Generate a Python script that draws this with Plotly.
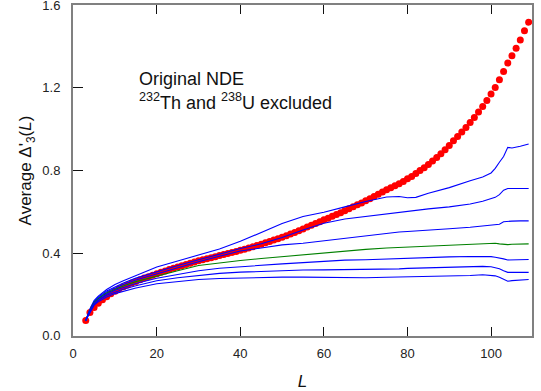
import plotly.graph_objects as go

# Red dots: Original NDE average Delta'_3(L), L = 3..109
L_red = list(range(3, 110))
red_vals = [
    0.074, 0.112, 0.137, 0.157, 0.174, 0.189, 0.203, 0.216, 0.227, 0.237,  # 3-12
    0.246, 0.255, 0.263, 0.271, 0.279, 0.286, 0.293, 0.300, 0.307, 0.314,  # 13-22
    0.321, 0.327, 0.333, 0.339, 0.345, 0.351, 0.357, 0.363, 0.368, 0.373,  # 23-32
    0.378, 0.383, 0.388, 0.393, 0.398, 0.403, 0.408, 0.414, 0.419, 0.425,  # 33-42
    0.431, 0.437, 0.443, 0.450, 0.456, 0.463, 0.470, 0.477, 0.484, 0.492,  # 43-52
    0.500, 0.508, 0.517, 0.526, 0.535, 0.544, 0.552, 0.561, 0.569, 0.578,  # 53-62
    0.587, 0.596, 0.605, 0.615, 0.624, 0.634, 0.643, 0.653, 0.663, 0.674,  # 63-72
    0.685, 0.696, 0.707, 0.717, 0.726, 0.736, 0.747, 0.760, 0.771, 0.786,  # 73-82
    0.800, 0.813, 0.829, 0.846, 0.863, 0.881, 0.900, 0.921, 0.944, 0.965,  # 83-92
    0.986, 1.008, 1.032, 1.057, 1.083, 1.110, 1.139, 1.170, 1.202, 1.239,  # 93-102
    1.279, 1.320, 1.355, 1.392, 1.432, 1.476, 1.518,                        # 103-109
]

# Lines (read at these L values)
L_lines = [3, 4, 5, 6, 8, 10, 12, 15, 20, 25,
           30, 35, 40, 45, 50, 55, 60, 65, 70, 75,
           78, 80, 82, 85, 90, 95, 98, 100, 101, 102,
           103, 104, 105, 107, 109]

blue1 = [0.074, 0.130, 0.170, 0.192, 0.224, 0.248, 0.266, 0.292, 0.333, 0.362,
         0.392, 0.420, 0.457, 0.500, 0.543, 0.577, 0.598, 0.624, 0.650, 0.672,
         0.674, 0.668, 0.670, 0.690, 0.717, 0.750, 0.768, 0.788, 0.810, 0.840,
         0.868, 0.912, 0.909, 0.917, 0.928]
blue2 = [0.074, 0.127, 0.166, 0.187, 0.217, 0.238, 0.255, 0.279, 0.310, 0.340,
         0.368, 0.395, 0.422, 0.445, 0.476, 0.512, 0.545, 0.565, 0.578, 0.589,
         0.597, 0.603, 0.607, 0.614, 0.624, 0.638, 0.651, 0.663, 0.670, 0.683,
         0.705, 0.713, 0.713, 0.713, 0.713]
blue3 = [0.074, 0.124, 0.163, 0.183, 0.212, 0.232, 0.248, 0.270, 0.300, 0.330,
         0.358, 0.385, 0.410, 0.425, 0.440, 0.448, 0.460, 0.472, 0.485, 0.497,
         0.502, 0.505, 0.507, 0.510, 0.518, 0.525, 0.530, 0.533, 0.536, 0.540,
         0.552, 0.555, 0.555, 0.556, 0.556]
green = [0.074, 0.122, 0.160, 0.179, 0.207, 0.226, 0.241, 0.262, 0.290, 0.315,
         0.340, 0.353, 0.364, 0.374, 0.383, 0.393, 0.402, 0.410, 0.418, 0.425,
         0.428, 0.430, 0.432, 0.435, 0.440, 0.445, 0.448, 0.449, 0.448, 0.445,
         0.443, 0.441, 0.443, 0.444, 0.445]
blue4 = [0.074, 0.120, 0.157, 0.175, 0.202, 0.220, 0.234, 0.253, 0.278, 0.298,
         0.315, 0.327, 0.335, 0.342, 0.348, 0.354, 0.360, 0.366, 0.368, 0.372,
         0.374, 0.376, 0.377, 0.379, 0.382, 0.384, 0.385, 0.383, 0.380, 0.377,
         0.372, 0.367, 0.367, 0.368, 0.369]
blue5 = [0.074, 0.118, 0.153, 0.170, 0.196, 0.212, 0.225, 0.242, 0.266, 0.281,
         0.292, 0.302, 0.308, 0.312, 0.316, 0.318, 0.319, 0.320, 0.320, 0.322,
         0.324, 0.326, 0.327, 0.330, 0.333, 0.335, 0.336, 0.334, 0.330, 0.324,
         0.315, 0.307, 0.307, 0.307, 0.307]
blue6 = [0.074, 0.115, 0.148, 0.164, 0.188, 0.204, 0.216, 0.231, 0.252, 0.263,
         0.272, 0.277, 0.280, 0.283, 0.284, 0.284, 0.283, 0.281, 0.281, 0.283,
         0.284, 0.285, 0.286, 0.287, 0.288, 0.292, 0.295, 0.294, 0.290, 0.283,
         0.272, 0.264, 0.267, 0.269, 0.272]

x_ticks = [0, 20, 40, 60, 80, 100]
y_ticks = [0.0, 0.4, 0.8, 1.2, 1.6]
y_ticktext = ["0.0", "0.4", "0.8", "1.2", "1.6"]

FONT = "Arial, Liberation Sans, sans-serif"

fig = go.Figure()
fig.add_trace(go.Scatter(x=L_red, y=red_vals, mode="markers",
                         marker=dict(color="#ff0000", size=7, line=dict(width=0)),
                         showlegend=False))
for vals, col in [(blue1, "#0000ff"), (blue2, "#0000ff"), (blue3, "#0000ff"),
                  (green, "#008000"), (blue4, "#0000ff"), (blue5, "#0000ff"),
                  (blue6, "#0000ff")]:
    fig.add_trace(go.Scatter(x=L_lines, y=vals, mode="lines",
                             line=dict(color=col, width=1.1), showlegend=False))

fig.update_layout(
    width=541, height=391,
    margin=dict(l=73, r=9, t=5, b=55),
    paper_bgcolor="white", plot_bgcolor="white",
    font=dict(family=FONT, color="#222222"),
    xaxis=dict(range=[-0.05, 109.8], tickvals=x_ticks, ticks="inside", ticklen=9,
               tickcolor="#111111", tickwidth=1, showline=True, linecolor="#808080",
               linewidth=2, mirror="ticks", showgrid=False, zeroline=False,
               ticklabelstandoff=4, ticklabeloverflow="allow", automargin=False,
               tickfont=dict(size=13, family=FONT, color="#222222"),
               title=dict(text="<i>L</i>", font=dict(size=17, family=FONT, color="#111111"),
                          standoff=16)),
    yaxis=dict(range=[-0.0012, 1.6012], tickvals=y_ticks, ticktext=y_ticktext,
               ticks="inside", ticklen=10, tickcolor="#111111", tickwidth=1,
               showline=True, linecolor="#808080", linewidth=2, mirror=True,
               showgrid=False, zeroline=False, ticklabelstandoff=8,
               ticklabeloverflow="allow", automargin=False,
               tickfont=dict(size=13, family=FONT, color="#222222"),
               title=dict(text="Average Δ'<sub>3</sub>(<i>L</i>)",
                          font=dict(size=17, family=FONT, color="#111111"), standoff=6)),
    yaxis2=dict(range=[-0.0012, 1.6012], tickvals=y_ticks, overlaying="y", side="right",
                ticks="outside", ticklen=9, tickcolor="#111111", tickwidth=1,
                showticklabels=False, showline=False, showgrid=False, zeroline=False,
                automargin=False),
)

fig.add_annotation(text="Original NDE", xref="paper", yref="paper",
                   x=0.14, y=0.777, xanchor="left", yanchor="middle", showarrow=False,
                   font=dict(size=18, family=FONT, color="#111111"))
fig.add_annotation(text="<sup>232</sup>Th and <sup>238</sup>U excluded", xref="paper",
                   yref="paper", x=0.14, y=0.709, xanchor="left", yanchor="middle",
                   showarrow=False, font=dict(size=18, family=FONT, color="#111111"))

fig.write_html("out.html")
